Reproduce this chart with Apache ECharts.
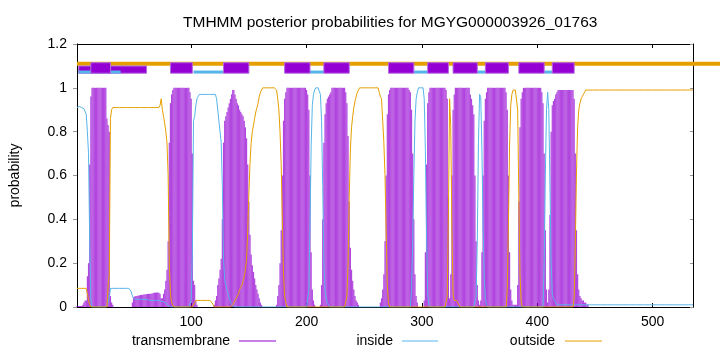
<!DOCTYPE html>
<html><head><meta charset="utf-8">
<script src="https://cdn.jsdelivr.net/npm/echarts@6/dist/echarts.min.js"></script>
<style>html,body{margin:0;padding:0;background:#fff}#c{width:720px;height:352px}</style>
</head><body><div id="c"></div>
<script>
// ---- data ----
const titleText = 'TMHMM posterior probabilities for MGYG000003926_01763';
const seriesNames = ['transmembrane', 'inside', 'outside'];
const xTicks = [100, 200, 300, 400, 500];
const seqLength = 535;

// per-residue posterior probability (residues 1..535)
const tmProb = [
.005,.005,.005,.005,.005,.01,.02,.03,.03,.14,
.2,.65,.96,1,1,1,1,1,1,1,
1,1,1,1,1,1,.86,.83,.8,.05,
.02,.01,0,0,0,0,0,0,0,0,
0,0,0,0,0,0,0,0,.02,.045,
.048,.05,.05,.052,.053,.055,.055,.056,.057,.058,
.058,.059,.06,.06,.061,.062,.064,.065,.066,.066,
.066,.065,.06,.04,.04,.06,.08,.12,.17,.3,
.75,.93,.97,.99,1,1,1,1,1,1,
1,1,1,1,1,1,1,1,.98,.95,
.7,.12,.1,.03,.01,0,0,0,0,0,
0,0,0,0,0,0,0,0,0,.01,
.03,.05,.1,.13,.17,.22,.4,.75,.85,.87,
.89,.91,.93,.95,.97,.99,.99,.97,.95,.93,
.92,.9,.89,.88,.87,.85,.82,.77,.65,.48,
.33,.24,.19,.16,.13,.1,.08,.06,.04,.02,
.01,0,0,0,0,0,0,0,0,0,
0,0,0,.01,.05,.1,.2,.35,.6,.85,
.95,.98,1,1,1,1,1,1,1,1,
1,1,1,1,1,1,1,1,1,.99,
.97,.9,.6,.25,.08,.03,.01,0,0,0,
0,.01,.1,.4,.75,.88,.93,.95,.96,.97,
.98,1,1,1,1,1,1,1,1,1,
1,1,1,.98,.93,.78,.48,.27,.17,.12,
.08,.05,.03,.02,.01,0,0,0,0,0,
0,0,0,0,0,0,0,0,0,0,
0,0,0,.02,.04,.08,.15,.3,.6,.88,
.97,.99,1,1,1,1,1,1,1,1,
1,1,1,1,1,1,1,1,.99,.98,
.9,.7,.4,.15,.05,.02,0,0,0,0,
0,.03,.25,.65,.93,.98,1,1,1,1,
1,1,1,1,1,1,1,1,1,1,
.99,.95,.5,.04,.15,.6,.9,.97,1,1,
1,1,1,1,1,1,1,1,1,1,
1,.97,.95,.92,.88,.6,.3,.1,.03,.01,
.03,.25,.6,.85,.95,.98,1,1,1,1,
1,1,1,1,1,1,1,1,1,1,
1,1,.98,.9,.6,.25,.08,.03,.01,.01,
.01,.01,.1,.48,.82,.95,.98,1,1,1,
1,1,1,1,1,1,1,1,1,1,
1,1,1,.98,.93,.7,.35,.08,.02,.08,
.42,.8,.92,.94,.95,.97,.98,.99,.99,.99,
.99,.99,.99,.99,.99,.99,.99,.99,.99,.99,
.99,.95,.7,.35,.15,.08,.05,.04,.03,.03,
.02,.02,.01,.01,0,0,0,0,0,0,
0,0,0,0,0,0,0,0,0,0,
0,0,0,0,0,0,0,0,0,0,
0,0,0,0,0,0,0,0,0,0,
0,0,0,0,0,0,0,0,0,0,
0,0,0,0,0,0,0,0,0,0,
0,0,0,0,0,0,0,0,0,0,
0,0,0,0,0,0,0,0,0,0,
0,0,0,0,0,0,0,0,0,0,
0,0,0,0,0
];

const insideProb = [
.91,.915,.915,.915,.91,.91,.905,.9,.88,.8,
.7,.3,.03,0,0,0,0,0,0,0,
0,0,0,0,0,0,.01,.02,.04,.085,
.085,.085,.085,.085,.085,.085,.085,.085,.085,.085,
.085,.085,.085,.085,.085,.085,.085,.07,.05,.04,
.035,.035,.035,.035,.035,.035,.035,.035,.035,.035,
.035,.035,.03,.03,.03,.03,.03,.03,.03,.03,
.03,.03,.028,.026,.025,.024,.022,.018,.012,.008,
.004,0,0,0,0,0,0,0,0,0,
0,0,0,0,0,0,0,0,0,.03,
.25,.85,.87,.92,.95,.96,.97,.97,.97,.97,
.97,.97,.97,.97,.97,.97,.97,.97,.97,.97,
.97,.95,.9,.85,.8,.75,.55,.22,.13,.1,
.08,.06,.04,.025,.015,.005,0,0,0,0,
0,0,0,0,0,0,0,0,0,0,
0,0,0,0,0,0,0,0,0,0,
0,0,0,0,0,0,0,0,0,0,
0,0,0,0,0,0,0,0,0,0,
0,0,0,0,0,0,0,0,0,0,
0,0,0,0,0,0,0,0,0,0,
0,.08,.38,.74,.92,.97,.99,1,1,1,
1,.97,.85,.55,.2,.08,.04,.02,.01,0,
0,0,0,0,0,0,0,0,0,0,
0,0,0,0,0,0,0,0,0,0,
0,0,0,0,0,0,0,0,0,0,
0,0,0,0,0,0,0,0,0,0,
0,0,0,0,0,0,0,0,0,0,
0,0,0,0,0,0,0,0,0,0,
0,0,0,0,0,0,0,0,0,0,
.08,.3,.6,.85,.95,.98,1,1,1,1,
1,.95,.72,.33,.06,.01,0,0,0,0,
0,0,0,0,0,0,0,0,0,0,
0,0,0,0,0,0,0,0,0,0,
0,0,0,0,0,0,0,0,0,0,
0,0,0,0,0,0,.05,.3,.75,.97,
.96,.72,.38,.14,.04,.01,0,0,0,0,
0,0,0,0,0,0,0,0,0,0,
0,0,0,0,0,0,0,0,0,0,
0,0,0,0,0,0,0,0,0,0,
0,0,0,0,0,0,0,0,0,0,
0,0,0,0,0,.2,.6,.9,.98,.9,
.55,.2,.06,.04,.03,.02,.01,.01,.01,.01,
.01,.01,.01,.01,.01,.01,.01,.01,.01,.01,
.01,.01,.01,.01,.01,.01,.01,.01,.01,.01,
.01,.01,.01,.01,.01,.01,.01,.01,.01,.01,
.01,.01,.01,.01,.01,.01,.01,.01,.01,.01,
.01,.01,.01,.01,.01,.01,.01,.01,.01,.01,
.01,.01,.01,.01,.01,.01,.01,.01,.01,.01,
.01,.01,.01,.01,.01,.01,.01,.01,.01,.01,
.01,.01,.01,.01,.01,.01,.01,.01,.01,.01,
.01,.01,.01,.01,.01,.01,.01,.01,.01,.01,
.01,.01,.01,.01,.01,.01,.01,.01,.01,.01,
.01,.01,.01,.01,.01,.01,.01,.01,.01,.01,
.01,.01,.01,.01,.01
];

const outsideProb = [
.085,.085,.085,.085,.085,.085,.085,.085,.085,.06,
.03,.01,0,0,0,0,0,0,0,0,
0,0,0,0,0,0,0,.1,.15,.86,
.9,.91,.91,.91,.91,.91,.91,.91,.91,.91,
.91,.91,.91,.91,.91,.91,.91,.91,.91,.91,
.91,.91,.91,.91,.91,.91,.91,.91,.91,.91,
.91,.91,.91,.91,.91,.91,.91,.91,.91,.91,
.91,.91,.92,.95,.9,.87,.84,.8,.75,.6,
.2,.06,.02,.01,0,0,0,0,0,0,
0,0,0,0,0,0,0,0,0,0,
0,0,.02,.03,.03,.03,.03,.03,.03,.03,
.03,.03,.03,.03,.03,.03,.03,.02,.01,0,
0,0,0,0,0,0,0,0,0,0,
0,0,0,0,0,.01,.02,.03,.04,.05,
.06,.08,.09,.1,.12,.14,.17,.22,.35,.52,
.66,.75,.8,.83,.86,.89,.91,.93,.96,.98,
.99,1,1,1,1,1,1,1,1,1,
1,1,1,.99,.95,.9,.8,.65,.4,.15,
.05,.02,0,0,0,0,0,0,0,0,
0,0,0,0,0,0,0,0,0,0,
0,0,0,0,0,0,0,0,0,0,
0,0,0,0,0,0,0,0,0,0,
0,0,0,0,0,0,0,0,0,0,
0,0,0,0,.05,.2,.5,.72,.82,.87,
.91,.94,.96,.98,.99,1,1,1,1,1,
1,1,1,1,1,1,1,1,1,1,
1,1,.98,.96,.95,.85,.75,.6,.35,.1,
.02,0,0,0,0,0,0,0,0,0,
0,0,0,0,0,0,0,0,0,0,
0,0,0,0,0,0,0,0,0,0,
0,0,0,0,0,0,0,0,0,0,
0,0,0,0,0,0,0,0,0,0,
0,.05,.45,.95,.82,.35,.06,.03,.03,.03,
.02,.01,0,0,0,0,0,0,0,0,
0,0,0,0,0,0,0,0,0,0,
0,0,0,0,0,0,0,0,0,0,
0,0,0,0,0,0,0,0,0,0,
0,0,0,.08,.38,.74,.92,.97,.99,.99,
.99,.99,.9,.5,.15,.03,0,0,0,0,
0,0,0,0,0,0,0,0,0,0,
0,0,0,0,0,0,0,0,0,0,
0,0,0,0,0,0,0,0,0,0,
0,0,0,0,0,0,0,0,0,0,
0,.04,.28,.62,.82,.9,.93,.95,.96,.97,
.98,.99,.99,.99,.99,.99,.99,.99,.99,.99,
.99,.99,.99,.99,.99,.99,.99,.99,.99,.99,
.99,.99,.99,.99,.99,.99,.99,.99,.99,.99,
.99,.99,.99,.99,.99,.99,.99,.99,.99,.99,
.99,.99,.99,.99,.99,.99,.99,.99,.99,.99,
.99,.99,.99,.99,.99,.99,.99,.99,.99,.99,
.99,.99,.99,.99,.99,.99,.99,.99,.99,.99,
.99,.99,.99,.99,.99,.99,.99,.99,.99,.99,
.99,.99,.99,.99,.99,.99,.99,.99,.99,.99,
.99,.99,.99,.99,.99
];

// topology strip above the plot: [start, end] residues
const tmSegments = [[13,30],[82,101],[128,150],[181,203],[215,237],[271,293],[305,323],[327,348],[355,375],[384,406],[413,432]];
const tmSegmentsLow = [[2.5,61.3]];
const insideSegments = [[2.5,38.8],[102,128],[203,215],[293,305],[348,355],[406,413]];
const outsideSegments = [[1,560]];

// ---- layout / style constants ----
const FONT = '"Liberation Sans", Arial, sans-serif';
const C_TM = '#9400d3', C_IN = '#56b4e9', C_OUT = '#e69f00';
const Y_OUT = 1.110, Y_IN = 1.072;
const BOX_BOTTOM = 1.0667, BOX_TOP = 1.1146, LOWBOX_TOP = 1.0995;

const idx = tmProb.map((_, i) => i + 1);
const tmData = idx.map((r, i) => [r, tmProb[i]]);
const inData = idx.map((r, i) => [r, insideProb[i]]);
const outData = idx.map((r, i) => [r, outsideProb[i]]);

function rectItem(top, fill) {
  return function (params, api) {
    const p0 = api.coord([api.value(0), top]);
    const p1 = api.coord([api.value(1), BOX_BOTTOM]);
    return {type: 'rect', shape: {x: p0[0], y: p0[1], width: p1[0] - p0[0], height: p1[1] - p0[1]},
      style: {fill: fill, stroke: '#b46ae0', lineWidth: 1}};
  };
}
function lineItem(y, color, w) {
  return function (params, api) {
    const p0 = api.coord([api.value(0), y]);
    const p1 = api.coord([api.value(1), y]);
    return {type: 'line', shape: {x1: p0[0], y1: p0[1], x2: p1[0], y2: p1[1]},
      style: {stroke: color, lineWidth: w}};
  };
}

const chart = echarts.init(document.getElementById('c'), null, {renderer: 'canvas'});
const axisTxt = {fontSize: 14, color: '#000', fontFamily: FONT};
chart.setOption({
  animation: false,
  backgroundColor: '#fff',
  title: {text: titleText, left: 178, top: 10,
    textStyle: {fontSize: 15.5, fontWeight: 'normal', color: '#000', fontFamily: FONT}},
  grid: {left: 73, top: 44, width: 620, height: 263, containLabel: false},
  xAxis: [
    {type: 'value', min: 1, max: seqLength, position: 'bottom',
      axisLine: {show: true, onZero: false, lineStyle: {color: '#000', width: 1}},
      axisTick: {show: true, inside: true, length: 4, customValues: xTicks, lineStyle: {color: '#000'}},
      axisLabel: Object.assign({customValues: xTicks, margin: 8}, axisTxt),
      splitLine: {show: false}},
    {type: 'value', min: 1, max: seqLength, position: 'top',
      axisLine: {show: true, onZero: false, lineStyle: {color: '#000', width: 1}},
      axisTick: {show: true, inside: true, length: 4, customValues: xTicks, lineStyle: {color: '#000'}},
      axisLabel: {show: false}, splitLine: {show: false}}
  ],
  yAxis: [
    {type: 'value', min: 0, max: 1.2, interval: 0.2, position: 'left',
      name: 'probability', nameLocation: 'middle', nameGap: 55, nameRotate: 90,
      nameTextStyle: axisTxt,
      axisLine: {show: true, onZero: false, lineStyle: {color: '#000', width: 1}},
      axisTick: {show: true, inside: false, length: 4, lineStyle: {color: '#999'}},
      axisLabel: Object.assign({margin: 10}, axisTxt),
      splitLine: {show: false}},
    {type: 'value', min: 0, max: 1.2, interval: 0.2, position: 'right',
      axisLine: {show: true, onZero: false, lineStyle: {color: '#000', width: 1}},
      axisTick: {show: true, inside: true, length: 3, lineStyle: {color: '#999'}},
      axisLabel: {show: false}, splitLine: {show: false}}
  ],
  series: [
    {name: seriesNames[0], type: 'bar', data: tmData, barWidth: 1.2,
      itemStyle: {color: C_TM, opacity: 0.72}, z: 2},
    {name: seriesNames[1], type: 'line', data: inData, showSymbol: false, symbol: 'none',
      lineStyle: {color: C_IN, width: 1}, z: 3},
    {name: seriesNames[2], type: 'line', data: outData, showSymbol: false, symbol: 'none',
      lineStyle: {color: C_OUT, width: 1}, z: 4},
    {type: 'custom', data: outsideSegments, renderItem: lineItem(Y_OUT, C_OUT, 4), clip: false, z: 5},
    {type: 'custom', data: tmSegmentsLow, renderItem: rectItem(LOWBOX_TOP, C_TM), clip: false, z: 6},
    {type: 'custom', data: insideSegments, renderItem: lineItem(Y_IN, C_IN, 3), clip: false, z: 7},
    {type: 'custom', data: tmSegments, renderItem: rectItem(BOX_TOP, C_TM), clip: false, z: 8}
  ],
  graphic: [
    {type: 'text', x: 230, y: 341, style: {text: seriesNames[0], align: 'right', verticalAlign: 'middle', font: '14px ' + FONT, fill: '#000'}},
    {type: 'line', shape: {x1: 239, y1: 341, x2: 276, y2: 341}, style: {stroke: C_TM, lineWidth: 1}},
    {type: 'text', x: 393, y: 341, style: {text: seriesNames[1], align: 'right', verticalAlign: 'middle', font: '14px ' + FONT, fill: '#000'}},
    {type: 'line', shape: {x1: 402, y1: 341, x2: 438, y2: 341}, style: {stroke: C_IN, lineWidth: 1}},
    {type: 'text', x: 555, y: 341, style: {text: seriesNames[2], align: 'right', verticalAlign: 'middle', font: '14px ' + FONT, fill: '#000'}},
    {type: 'line', shape: {x1: 565, y1: 341, x2: 602, y2: 341}, style: {stroke: C_OUT, lineWidth: 1}}
  ]
});
</script></body></html>
